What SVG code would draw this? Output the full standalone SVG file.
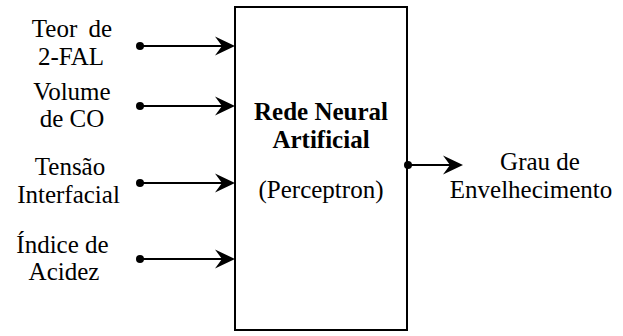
<svg xmlns="http://www.w3.org/2000/svg" width="623" height="336" viewBox="0 0 623 336">
  <style>
    .lbl { font-family: 'Liberation Serif', serif; font-size: 25px; fill: #000; text-anchor: middle; }
    .bold { font-weight: bold; }
    .box { fill: #fff; stroke: #000; stroke-width: 2; }
    .wire { stroke: #000; stroke-width: 2; fill: none; }
    .dot { fill: #000; }
    .head { fill: #000; }
  </style>
  <defs>
    <!-- notched arrowhead, tip at origin pointing right -->
    <path id="head" class="head" d="M0,0 L-20,-9.5 L-13,0 L-20,9.5 Z"/>
  </defs>

  <g id="rede-neural">
    <rect class="box" x="235" y="7" width="172" height="323"/>
    <text class="lbl bold" font-family="Liberation Serif" x="321" y="120">Rede Neural</text>
    <text class="lbl bold" font-family="Liberation Serif" x="321" y="148">Artificial</text>
    <text class="lbl" font-family="Liberation Serif" x="321" y="198">(Perceptron)</text>
  </g>

  <g id="teor-2fal">
    <text class="lbl" font-family="Liberation Serif" x="72" y="37">Teor <tspan dx="5">de</tspan></text>
    <text class="lbl" font-family="Liberation Serif" x="71" y="65">2-FAL</text>
  </g>
  <g id="volume-co">
    <text class="lbl" font-family="Liberation Serif" x="72" y="100">Volume</text>
    <text class="lbl" font-family="Liberation Serif" x="72" y="127">de CO</text>
  </g>
  <g id="tensao-interfacial">
    <text class="lbl" font-family="Liberation Serif" x="70" y="175">Tensão</text>
    <text class="lbl" font-family="Liberation Serif" x="68.5" y="203">Interfacial</text>
  </g>
  <g id="indice-acidez">
    <text class="lbl" font-family="Liberation Serif" x="62.5" y="253">Índice de</text>
    <text class="lbl" font-family="Liberation Serif" x="64" y="280">Acidez</text>
  </g>
  <g id="grau-envelhecimento">
    <text class="lbl" font-family="Liberation Serif" x="540" y="170">Grau de</text>
    <text class="lbl" font-family="Liberation Serif" x="531" y="198">Envelhecimento</text>
  </g>

  <g id="connectors">
    <circle class="dot" cx="140" cy="46" r="4"/>
    <line class="wire" x1="140" y1="46" x2="222" y2="46"/>
    <use href="#head" x="235" y="46"/>

    <circle class="dot" cx="140" cy="106" r="4"/>
    <line class="wire" x1="140" y1="106" x2="222" y2="106"/>
    <use href="#head" x="235" y="106"/>

    <circle class="dot" cx="140" cy="183" r="4"/>
    <line class="wire" x1="140" y1="183" x2="222" y2="183"/>
    <use href="#head" x="235" y="183"/>

    <circle class="dot" cx="140" cy="259" r="4"/>
    <line class="wire" x1="140" y1="259" x2="222" y2="259"/>
    <use href="#head" x="235" y="259"/>

    <circle class="dot" cx="408" cy="165" r="4"/>
    <line class="wire" x1="408" y1="165" x2="450" y2="165"/>
    <use href="#head" x="463" y="165"/>
  </g>
</svg>
